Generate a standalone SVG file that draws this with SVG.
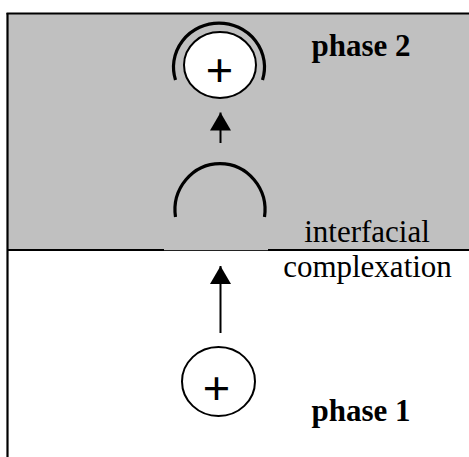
<svg xmlns="http://www.w3.org/2000/svg" width="469" height="457" viewBox="0 0 469 457">
  <defs>
    <style>
      .frame { stroke: #000; stroke-width: 2.2; fill: none; }
      .ring { fill: #fff; stroke: #000; stroke-width: 2; }
      .shell { fill: none; stroke: #000; stroke-width: 3.2; }
      .plus { font-family: "Liberation Sans", Arial, sans-serif; font-size: 47px; text-anchor: middle; fill: #000; }
      .phase { font-family: "Liberation Serif", "Times New Roman", serif; font-size: 31px; font-weight: bold; fill: #000; }
      .label { font-family: "Liberation Serif", "Times New Roman", serif; font-size: 31px; text-anchor: middle; fill: #000; }
      .shaft { stroke: #000; stroke-width: 2; }
    </style>
    <marker id="head" viewBox="0 0 18 21" refX="18" refY="10.5" markerWidth="18" markerHeight="21" markerUnits="userSpaceOnUse" orient="auto">
      <path d="M0,0 L18,10.5 L0,21 Z" fill="#000"/>
    </marker>
  </defs>

  <rect width="469" height="457" fill="#fff"/>

  <!-- phase 2 region (upper, shaded) -->
  <g id="phase2-region">
    <rect x="7.5" y="13.5" width="462" height="236.5" fill="#c0c0c0"/>
    <line class="frame" x1="6.5" y1="13.5" x2="469" y2="13.5"/>
    <line class="frame" x1="7.5" y1="13" x2="7.5" y2="457"/>
    <line class="frame" x1="7" y1="250" x2="164" y2="250"/>
    <line class="frame" x1="268" y1="250" x2="469" y2="250"/>
    <line x1="164" y1="250.5" x2="268" y2="250.5" stroke="#222" stroke-width="1"/>
    <text class="phase" x="311.5" y="56">phase 2</text>
  </g>

  <!-- phase 1 label -->
  <g id="phase1-region">
    <text class="phase" x="311.5" y="421">phase 1</text>
  </g>

  <!-- complexed cation in phase 2 -->
  <g id="complexed-ion">
    <path class="shell" d="M175.5,80 A45.5,44 0 1 1 262.5,80"/>
    <ellipse class="ring" cx="220" cy="65" rx="36" ry="33"/>
    <text class="plus" x="219.5" y="86">+</text>
  </g>

  <!-- free ligand at the interface -->
  <g id="ligand">
    <path class="shell" d="M175.5,217 A45,46.5 0 1 1 264.5,217"/>
  </g>

  <!-- interface label -->
  <g id="interface-label">
    <text class="label" x="367" y="241.5">interfacial</text>
    <text class="label" x="367.5" y="276.5">complexation</text>
  </g>

  <!-- free cation in phase 1 -->
  <g id="free-ion">
    <ellipse class="ring" cx="218.5" cy="381.5" rx="36.5" ry="34.5"/>
    <text class="plus" x="216.5" y="403.5">+</text>
  </g>

  <!-- connectors -->
  <g id="connectors">
    <line class="shaft" x1="220.5" y1="143" x2="220.5" y2="112.5" marker-end="url(#head)"/>
    <line class="shaft" x1="220.5" y1="333" x2="220.5" y2="266" marker-end="url(#head)"/>
  </g>
</svg>
